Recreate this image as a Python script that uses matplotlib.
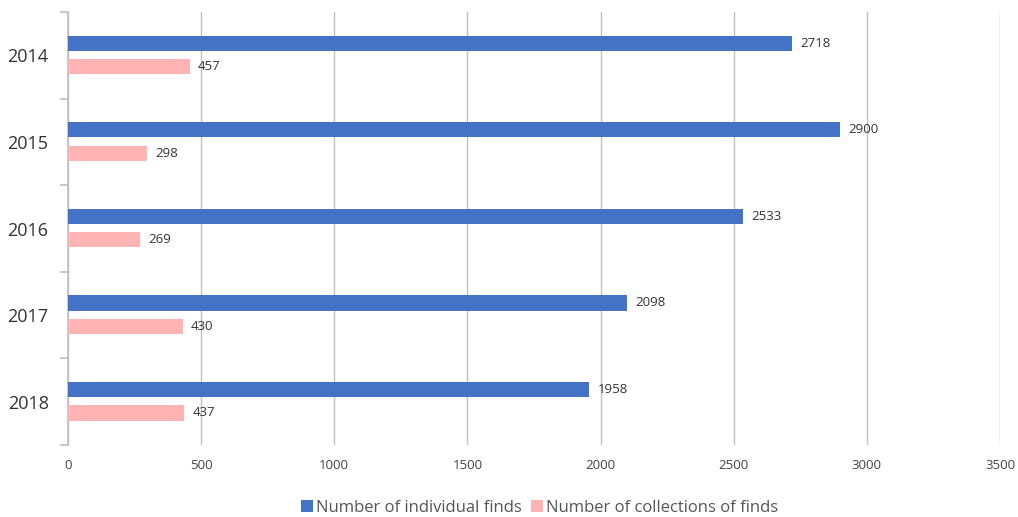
import matplotlib
matplotlib.use("Agg")
import matplotlib.pyplot as plt
import numpy as np

years = ["2014", "2015", "2016", "2017", "2018"]
individual = [2718, 2900, 2533, 2098, 1958]
collections = [457, 298, 269, 430, 437]
xticks = [0, 500, 1000, 1500, 2000, 2500, 3000, 3500]
labels = ["Number of individual finds", "Number of collections of finds"]

plt.rcParams['font.family'] = ['Open Sans', 'DejaVu Sans']

fig = plt.figure(figsize=(10.18, 5.17), dpi=100)
ax = fig.add_axes([68/1018, 1-445/517, (1000-68)/1018, (445-12)/517])

y = np.arange(len(years))
h = 0.175
b1 = ax.barh(y - 0.14, individual, height=h, color="#4472C4", label=labels[0], zorder=3)
b2 = ax.barh(y + 0.13, collections, height=h, color="#FFB3B3", label=labels[1], zorder=3)

for rect, v in zip(b1, individual):
    ax.annotate(str(v), (v, rect.get_y() + rect.get_height()/2), xytext=(6, 0),
                textcoords="offset points", va="center", ha="left", fontsize=9.5, color="#333333")
for rect, v in zip(b2, collections):
    ax.annotate(str(v), (v, rect.get_y() + rect.get_height()/2), xytext=(6, 0),
                textcoords="offset points", va="center", ha="left", fontsize=9.5, color="#333333")

ax.set_xlim(0, 3500)
ax.set_ylim(len(years) - 0.5, -0.5)
ax.set_xticks(xticks)
ax.set_xticklabels([str(t) for t in xticks], fontsize=9.5, color="#444444")
ax.tick_params(axis='x', length=0, pad=10)

ax.set_yticks(y)
ax.set_yticklabels(years, fontsize=13, color="#333333")
ax.tick_params(axis='y', length=0, pad=14)
ax.set_yticks(np.arange(len(years) + 1) - 0.5, minor=True)
ax.tick_params(axis='y', which='minor', length=6, color="#bfbfbf", width=1.2)

ax.grid(axis='x', color="#c0c0c0", linewidth=1, zorder=0)
for s in ['top', 'right', 'bottom']:
    ax.spines[s].set_visible(False)
ax.spines['left'].set_color("#bfbfbf")
ax.spines['left'].set_linewidth(1.2)
ax.xaxis.grid(True)
ax.set_axisbelow(True)

leg = fig.legend(handles=[b1, b2], labels=labels, loc='center', bbox_to_anchor=(0.53, 1-508/517),
                 ncol=2, frameon=False, fontsize=12, handlelength=0.7, handleheight=0.7,
                 handletextpad=0.15, columnspacing=0.6)
for t in leg.get_texts():
    t.set_color("#555555")

fig.savefig("out.png", dpi=100)
